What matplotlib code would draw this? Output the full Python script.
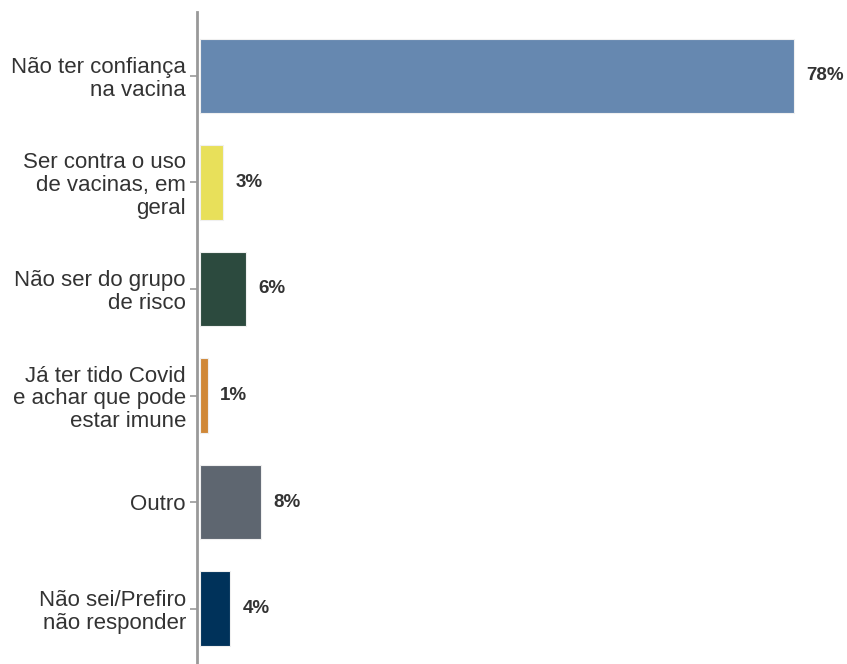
import matplotlib.pyplot as plt
import numpy as np

plt.rcParams['font.family'] = ['Liberation Sans', 'DejaVu Sans']

# reasons / shares
categories = ['Não ter confiança\nna vacina',
              'Ser contra o uso\nde vacinas, em\ngeral',
              'Não ser do grupo\nde risco',
              'Já ter tido Covid\ne achar que pode\nestar imune',
              'Outro',
              'Não sei/Prefiro\nnão responder']
values = [78, 3, 6, 1, 8, 4]
colors = ['#6688B0', '#E8E05A', '#2C4A3E', '#D08838', '#5E6670', '#00325A']

fig = plt.figure(figsize=(8.47, 6.64), dpi=100)
ax = fig.add_axes([197 / 847, 0, 650 / 847, 652 / 664])

y = np.arange(len(categories))
bars = ax.barh(y, values, height=0.7, color=colors, edgecolor='#f0f0f0', linewidth=0.8)

for i, v in enumerate(values):
    ax.annotate(f'{v}%', (v, i), xytext=(9, 0), textcoords='offset points',
                va='center', ha='left', fontsize=13.5, fontweight='bold', color='#333333')

ax.set_yticks(y)
ax.set_yticklabels(categories, fontsize=16, color='#333333', linespacing=1.12)
ax.set_ylim(5.52, -0.6)
ax.set_xlim(-0.4, 85)
ax.set_xticks([])

for s in ['top', 'right', 'bottom']:
    ax.spines[s].set_visible(False)
ax.spines['left'].set_color('#999999')
ax.spines['left'].set_linewidth(2)
ax.tick_params(axis='y', length=5, width=1.2, color='#999999', pad=3)

fig.savefig('out.png', dpi=100)
